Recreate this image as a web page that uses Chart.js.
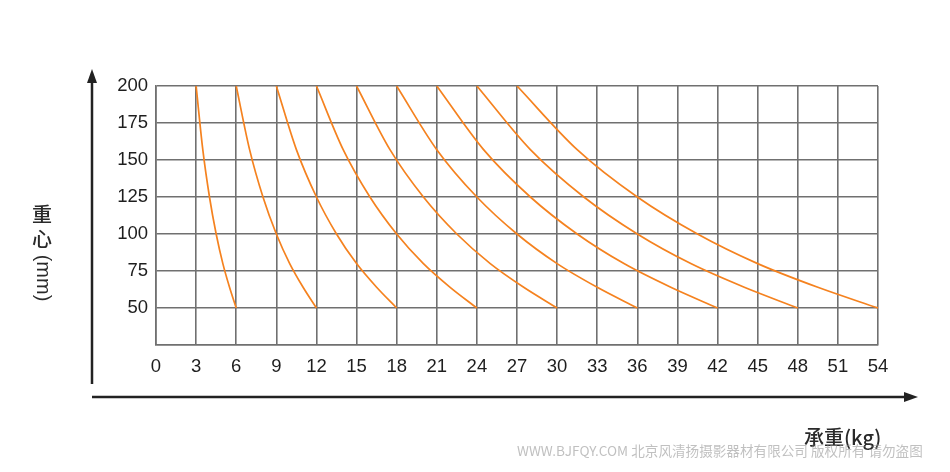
<!DOCTYPE html>
<html>
<head>
<meta charset="utf-8">
<script src="https://cdn.jsdelivr.net/npm/chart.js@4.4.1/dist/chart.umd.min.js"></script>
<style>
  html, body { margin: 0; padding: 0; background: #fff; }
  #wrap { position: relative; width: 950px; height: 472px; }
</style>
</head>
<body>
<div id="wrap"><canvas id="c" width="950" height="472"></canvas></div>
<script>
// centre of gravity (mm)
const centerMm = [200, 157, 125, 100, 80, 64, 50];
// load (kg) at those centres, one list per curve
const load1 = [3, 3.5, 4, 4.5, 5, 5.5, 6];
const load2 = [6, 7, 8, 9, 10, 11, 12];
const load3 = [9, 10.5, 12, 13.5, 15, 16.5, 18];
const load4 = [12, 14, 16, 18, 20, 22, 24];
const load5 = [15, 17.5, 20, 22.5, 25, 27.5, 30];
const load6 = [18, 21, 24, 27, 30, 33, 36];
const load7 = [21, 24.5, 28, 31.5, 35, 38.5, 42];
const load8 = [24, 28, 32, 36, 40, 44, 48];
const load9 = [27, 31.5, 36, 40.5, 45, 49.5, 54];
const curves = [load1, load2, load3, load4, load5, load6, load7, load8, load9];

const xTicks = [0, 3, 6, 9, 12, 15, 18, 21, 24, 27, 30, 33, 36, 39, 42, 45, 48, 51, 54];
const yTicks = [50, 75, 100, 125, 150, 175, 200];

const yTitle = '重心';
const yUnit = '(mm)';
const xTitle = '承重(kg)';
const watermark = 'WWW.BJFQY.COM 北京风清扬摄影器材有限公司 版权所有 请勿盗图';

const tickFont = { family: '"Liberation Sans", Arial, sans-serif', size: 18.5 };

const datasets = curves.map(loads => ({
  data: loads.map((x, i) => ({ x: x, y: centerMm[i] })),
  borderColor: '#f5821f',
  borderWidth: 1.7,
  pointRadius: 0,
  showLine: true,
  fill: false,
  cubicInterpolationMode: 'monotone'
}));

// axis arrows, titles and the watermark
const decor = {
  id: 'decor',
  afterDraw(chart) {
    const ctx = chart.ctx;
    ctx.save();
    ctx.strokeStyle = '#222';
    ctx.fillStyle = '#222';
    ctx.lineWidth = 2.5;
    // vertical arrow
    ctx.beginPath();
    ctx.moveTo(92, 384);
    ctx.lineTo(92, 80);
    ctx.stroke();
    ctx.beginPath();
    ctx.moveTo(92, 69);
    ctx.lineTo(87, 83);
    ctx.lineTo(97, 83);
    ctx.closePath();
    ctx.fill();
    // horizontal arrow
    ctx.beginPath();
    ctx.moveTo(92, 397);
    ctx.lineTo(906, 397);
    ctx.stroke();
    ctx.beginPath();
    ctx.moveTo(918, 397);
    ctx.lineTo(904, 392);
    ctx.lineTo(904, 402);
    ctx.closePath();
    ctx.fill();

    // y title, vertical writing
    ctx.fillStyle = '#2a2a2a';
    ctx.font = '500 20px "Noto Sans CJK SC", sans-serif';
    ctx.textAlign = 'center';
    ctx.textBaseline = 'middle';
    ctx.fillText(yTitle[0], 42, 214);
    ctx.fillText(yTitle[1], 42, 239);
    ctx.save();
    ctx.translate(43, 278);
    ctx.rotate(Math.PI / 2);
    ctx.font = '20px "Liberation Sans", Arial, sans-serif';
    ctx.fillText(yUnit, 0, 0);
    ctx.restore();

    // x title
    ctx.font = '500 20px "Noto Sans CJK SC", sans-serif';
    ctx.textAlign = 'left';
    ctx.fillText(xTitle, 804, 437);

    // watermark
    ctx.fillStyle = 'rgba(150,150,150,0.6)';
    ctx.font = '13.6px "Noto Sans CJK SC", sans-serif';
    ctx.textAlign = 'left';
    ctx.fillText(watermark, 517, 451);
    ctx.restore();
  }
};

new Chart(document.getElementById('c'), {
  type: 'scatter',
  data: { datasets: datasets },
  options: {
    responsive: false,
    animation: false,
    events: [],
    layout: { padding: { left: 0, top: 86, right: 72, bottom: 0 } },
    plugins: { legend: { display: false }, tooltip: { enabled: false } },
    scales: {
      x: {
        type: 'linear',
        min: 0,
        max: 54,
        afterFit(scale) { scale.height = 127; },
        afterBuildTicks(scale) { scale.ticks = xTicks.map(v => ({ value: v })); },
        grid: { color: '#707070', lineWidth: 1.6, drawTicks: false },
        border: { color: '#707070', width: 1.6 },
        ticks: {
          color: '#1e1e1e',
          padding: 11,
          maxRotation: 0,
          autoSkip: false,
          font: tickFont
        }
      },
      y: {
        type: 'linear',
        min: 25,
        max: 200,
        afterFit(scale) { scale.width = 156; },
        afterBuildTicks(scale) {
          scale.ticks = [25].concat(yTicks).map(v => ({ value: v }));
        },
        grid: { color: '#707070', lineWidth: 1.6, drawTicks: false },
        border: { color: '#707070', width: 1.6 },
        ticks: {
          color: '#1e1e1e',
          padding: 8,
          autoSkip: false,
          callback: v => (yTicks.includes(v) ? String(v) : ''),
          font: tickFont
        }
      }
    }
  },
  plugins: [decor]
});
</script>
</body>
</html>
